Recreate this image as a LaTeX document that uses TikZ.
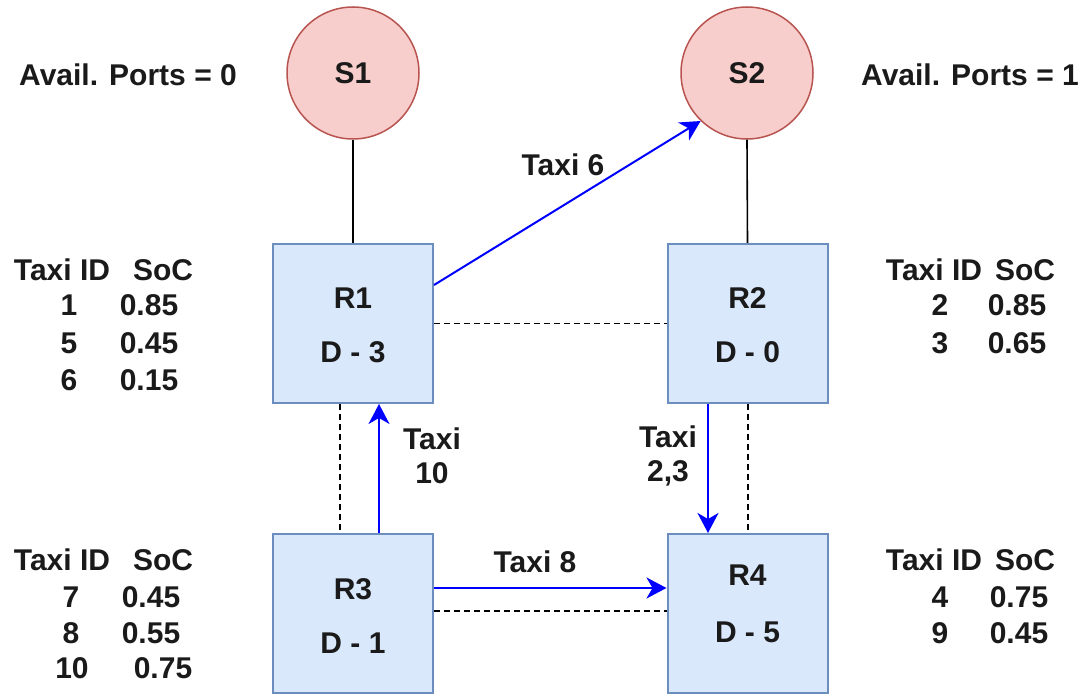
\documentclass[tikz,border=0pt]{standalone}
\usepackage{fontspec}
\setmainfont{Liberation Sans}
\usetikzlibrary{arrows.meta}
\definecolor{sfill}{HTML}{F8CECC}
\definecolor{sdraw}{HTML}{B85450}
\definecolor{rfill}{HTML}{DAE8FC}
\definecolor{rdraw}{HTML}{6C8EBF}
\definecolor{txt}{HTML}{1A1A1A}
\tikzset{
  every node/.style={font=\fontsize{30}{34}\selectfont\bfseries, text=txt, inner sep=0pt},
  station/.style={circle, draw=sdraw, fill=sfill, line width=1.5pt, minimum size=132pt},
  region/.style={rectangle, draw=rdraw, fill=rfill, line width=2pt, minimum width=160pt, minimum height=159pt},
  link/.style={draw=black, line width=1.6pt},
  dlink/.style={draw=black, line width=1.8pt, dash pattern=on 6pt off 4pt},
  move/.style={draw=blue, line width=2pt, -{Stealth[length=20pt, width=21pt, inset=6pt]}},
}
\begin{document}
\begin{tikzpicture}[x=1pt, y=1pt]
\useasboundingbox (0,0) rectangle (1085,694);

% stations
\node[station] (S1) at (353,621) {S1};
\node[station] (S2) at (747,621) {S2};
\node (av1) at (128,619) {Avail. Ports = 0};
\node (av2) at (970,619) {Avail. Ports = 1};

% regions
\node[region] (R1) at (353,370.5) {};
\node[region] (R2) at (747.5,370.5) {};
\node[region] (R3) at (353,80.5) {};
\node[region] (R4) at (747.5,80.5) {};
\node (r1a) at (353,396) {R1};
\node (r1b) at (353,342) {D - 3};
\node (r2a) at (747.5,396) {R2};
\node (r2b) at (747.5,342) {D - 0};
\node (r3a) at (353,105) {R3};
\node (r3b) at (353,51) {D - 1};
\node (r4a) at (747.5,119) {R4};
\node (r4b) at (747.5,62) {D - 5};

% solid links
\draw[link] (S1.south) -- (R1.north);
\draw[link] (S2.south) -- (R2.north);

% dashed links
\draw[dlink] (R1.east) -- (R2.west);
\draw[dlink] ([yshift=2.5pt]R3.east) -- ([yshift=2.5pt]R4.west);
\draw[dlink] ([xshift=-13pt]R1.south) -- ([xshift=-13pt]R3.north);
\draw[dlink] ([xshift=0.5pt]R2.south) -- ([xshift=0.5pt]R4.north);

% taxi movements
\draw[move] ([yshift=38.5pt]R1.east) -- (S2.226);
\draw[move] ([xshift=26pt]R3.north) -- ([xshift=26pt]R1.south);
\draw[move] ([xshift=-39.5pt]R2.south) -- ([xshift=-39.5pt]R4.north);
\draw[move] ([yshift=25.5pt]R3.east) -- ([yshift=25.5pt]R4.west);

\node (t6) at (563,529) {Taxi 6};
\node[align=center] (t10) at (432,238) {Taxi\\10};
\node[align=center] (t23) at (668,238) {Taxi\\2,3};
\node (t8) at (535,132) {Taxi 8};

% table top-left
\node (h1a) at (62,424) {Taxi ID};
\node (h1b) at (163,424) {SoC};
\node (a1) at (69,389) {1};  \node (b1) at (149,389) {0.85};
\node (a2) at (69,351) {5};  \node (b2) at (149,351) {0.45};
\node (a3) at (69,314) {6};  \node (b3) at (149,314) {0.15};

% table top-right
\node (h2a) at (934,424) {Taxi ID};
\node (h2b) at (1025,424) {SoC};
\node (c1) at (940,389) {2};  \node (d1) at (1017,389) {0.85};
\node (c2) at (940,351) {3};  \node (d2) at (1017,351) {0.65};

% table bottom-left
\node (h3a) at (62,134) {Taxi ID};
\node (h3b) at (163,134) {SoC};
\node (e1) at (71,97) {7};   \node (f1) at (151,97) {0.45};
\node (e2) at (71,61) {8};   \node (f2) at (151,61) {0.55};
\node (e3) at (72,26) {10};  \node (f3) at (163,26) {0.75};

% table bottom-right
\node (h4a) at (934,134) {Taxi ID};
\node (h4b) at (1025,134) {SoC};
\node (g1) at (940,97) {4};  \node (k1) at (1019,97) {0.75};
\node (g2) at (940,61) {9};  \node (k2) at (1019,61) {0.45};
\end{tikzpicture}
\end{document}
